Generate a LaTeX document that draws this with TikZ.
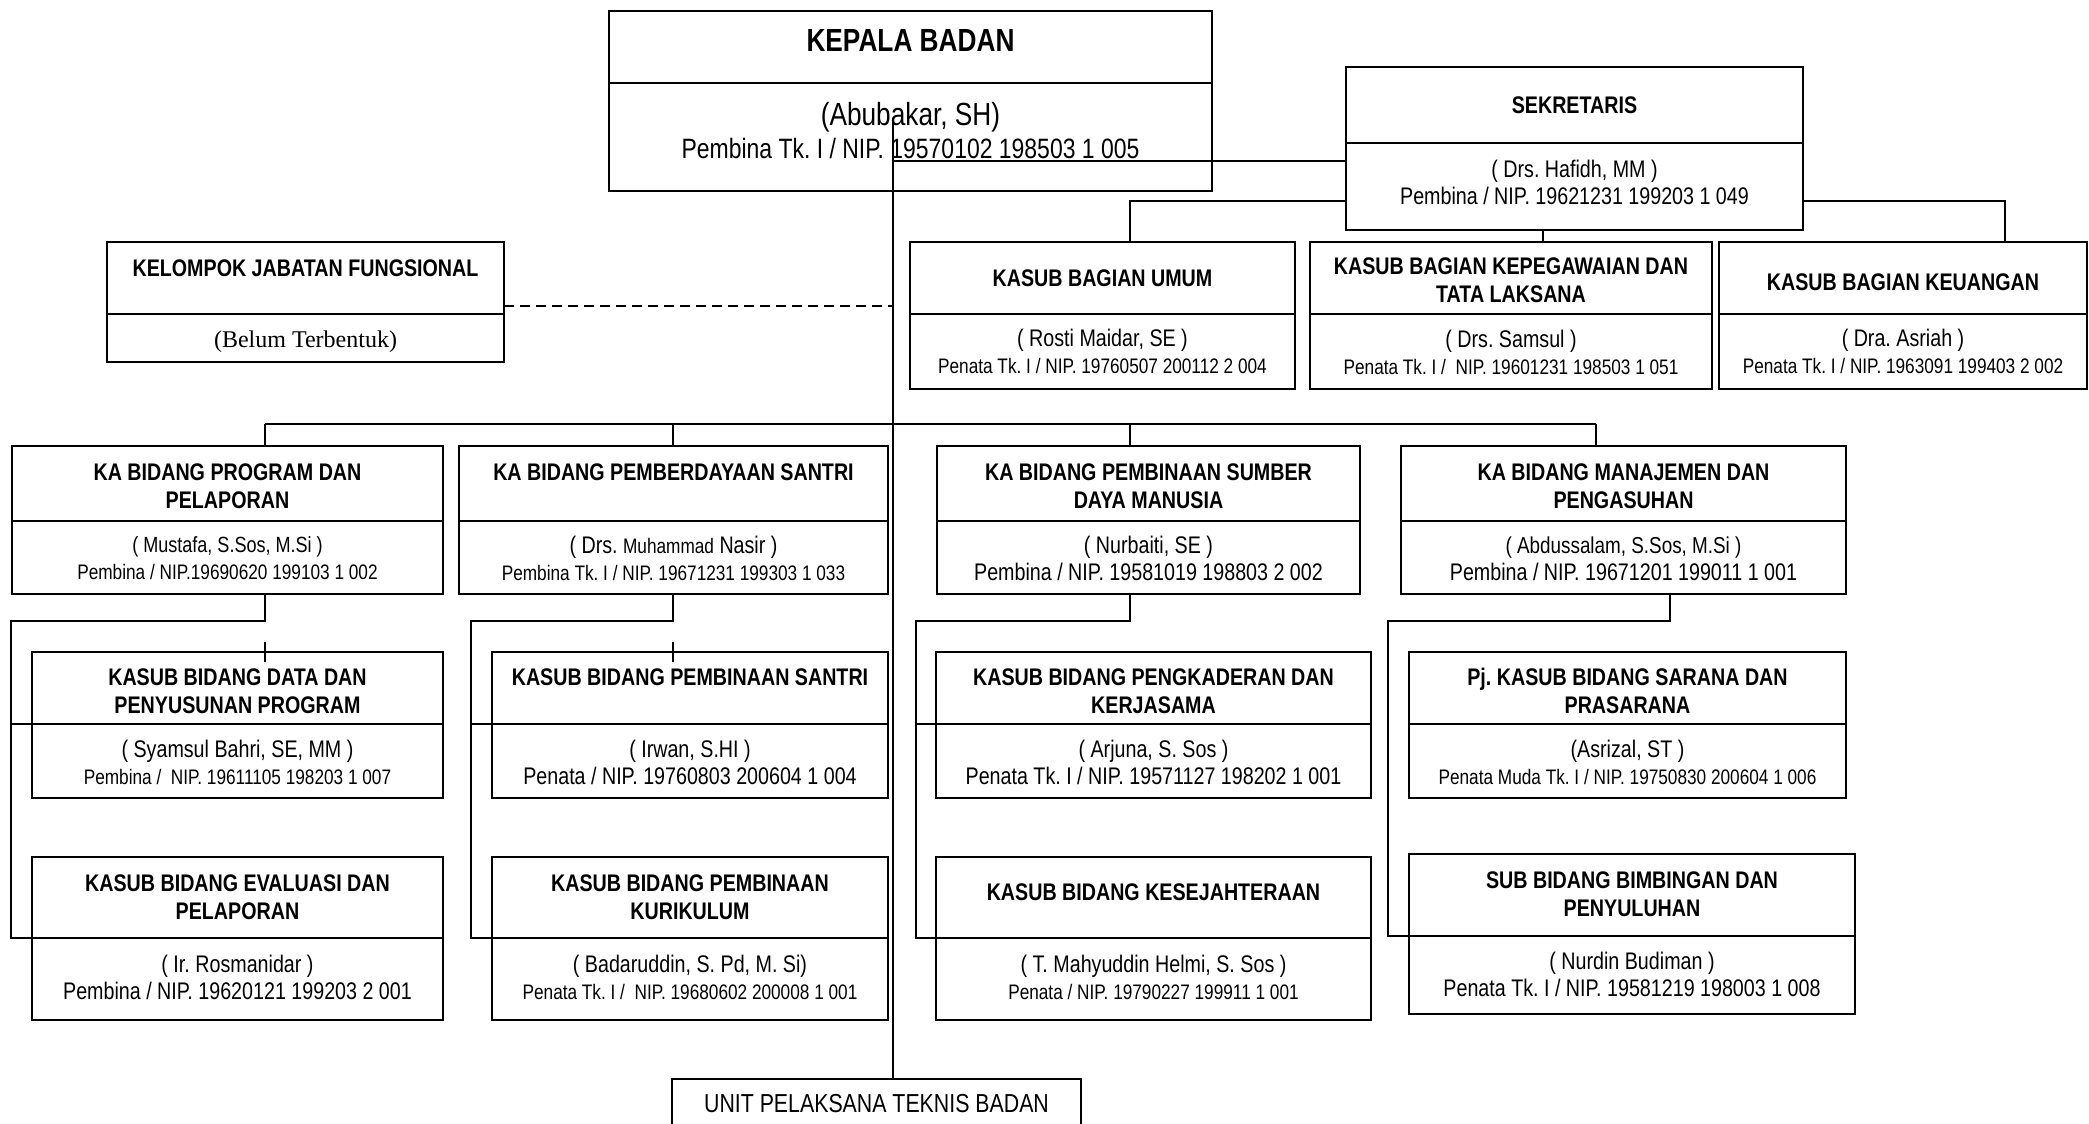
\documentclass[tikz,border=0pt]{standalone}
\usepackage{fontspec}
\setmainfont{Liberation Sans}[FakeStretch=0.82]
\newfontfamily\timesf{Liberation Serif}
\newcommand\fsz[2]{\fontsize{#1}{#2}\selectfont}
% name, x1, y1, x2, y2, style, text offset (px, downward), text
\newcommand{\orgsec}[8]{%
  \node[#6, minimum width={((#4)-(#2))*0.5pt}, minimum height={((#5)-(#3))*0.5pt}] (#1) at ({((#2)+(#4))/2},{((#3)+(#5))/2}) {};
  \node[#6, draw=none, yshift={-(#7)*0.5pt}] (#1-t) at (#1) {#8};}
\tikzset{
  box/.style={draw, line width=1.2pt, inner sep=0pt, outer sep=0pt, align=center, font=\fsz{12}{13.5}},
  ttl/.style={box, font=\bfseries\fsz{12}{14}},
  conn/.style={line width=0.8pt},
}
\begin{document}
\frenchspacing
\begin{tikzpicture}[x=0.5pt,y=-0.5pt]
\useasboundingbox (0,0) rectangle (2089,1124);
% Kepala
\orgsec{kepT}{609}{11}{1212}{83}{ttl,font=\bfseries\fsz{16}{19}}{-7}{KEPALA BADAN}
\orgsec{kepB}{609}{83}{1212}{191}{box}{-6}{\fsz{16}{18}(Abubakar, SH)\\[3pt]\fsz{14}{17}Pembina Tk. I / NIP. 19570102 198503 1 005}
% Sekretaris
\orgsec{sekT}{1346}{67}{1803}{143}{ttl}{0}{SEKRETARIS}
\orgsec{sekB}{1346}{143}{1803}{230}{box}{-4}{( Drs. Hafidh, MM )\\Pembina / NIP. 19621231 199203 1 049}
% Kelompok
\orgsec{kelT}{107}{242}{504}{314}{ttl}{4}{KELOMPOK JABATAN FUNGSIONAL\\\mbox{}}
\orgsec{kelB}{107}{314}{504}{362}{box,font=\timesf\fsz{12}{14}}{4}{(Belum Terbentuk)}
% Bagian
\orgsec{umT}{910}{242}{1295}{314}{ttl}{0}{KASUB BAGIAN UMUM}
\orgsec{umB}{910}{314}{1295}{389}{box}{0}{( Rosti Maidar, SE )\\\fsz{10.5}{12}Penata Tk. I / NIP. 19760507 200112 2 004}
\orgsec{pegT}{1310}{242}{1712}{314}{ttl}{2}{KASUB BAGIAN KEPEGAWAIAN DAN\\TATA LAKSANA}
\orgsec{pegB}{1310}{314}{1712}{389}{box}{1}{( Drs. Samsul )\\\fsz{10.5}{12}Penata Tk. I /~ NIP. 19601231 198503 1 051}
\orgsec{uangT}{1719}{242}{2087}{314}{ttl}{4}{KASUB BAGIAN KEUANGAN}
\orgsec{uangB}{1719}{314}{2087}{389}{box}{0}{( Dra. Asriah )\\\fsz{10.5}{12}Penata Tk. I / NIP. 1963091 199403 2 002}
% KA Bidang
\orgsec{kaProgT}{12}{446}{443}{521}{ttl}{3}{KA BIDANG PROGRAM DAN\\PELAPORAN}
\orgsec{kaProgB}{12}{521}{443}{594}{box}{1}{\fsz{11}{13}( Mustafa, S.Sos, M.Si )\\\fsz{10.5}{12}Pembina / NIP.19690620 199103 1 002}
\orgsec{kaSanT}{459}{446}{888}{521}{ttl}{3}{KA BIDANG PEMBERDAYAAN SANTRI\\\mbox{}}
\orgsec{kaSanB}{459}{521}{888}{594}{box}{1}{( Drs. {\fsz{10.5}{12}Muhammad} Nasir )\\\fsz{10.5}{12}Pembina Tk. I / NIP. 19671231 199303 1 033}
\orgsec{kaSdmT}{937}{446}{1360}{521}{ttl}{3}{KA BIDANG PEMBINAAN SUMBER\\DAYA MANUSIA}
\orgsec{kaSdmB}{937}{521}{1360}{594}{box}{1}{( Nurbaiti, SE )\\Pembina / NIP. 19581019 198803 2 002}
\orgsec{kaManT}{1401}{446}{1846}{521}{ttl}{3}{KA BIDANG MANAJEMEN DAN\\PENGASUHAN}
\orgsec{kaManB}{1401}{521}{1846}{594}{box}{1}{\fsz{11.5}{13}( Abdussalam, S.Sos, M.Si )\\\fsz{12}{13.5}Pembina / NIP. 19671201 199011 1 001}
% KASUB row 1
\orgsec{dataT}{32}{652}{443}{724}{ttl}{3}{KASUB BIDANG DATA DAN\\PENYUSUNAN PROGRAM}
\orgsec{dataB}{32}{724}{443}{798}{box}{1}{( Syamsul Bahri, SE, MM )\\\fsz{10.5}{12}Pembina /~ NIP. 19611105 198203 1 007}
\orgsec{pSanT}{492}{652}{888}{724}{ttl}{3}{KASUB BIDANG PEMBINAAN SANTRI\\\mbox{}}
\orgsec{pSanB}{492}{724}{888}{798}{box}{1}{( Irwan, S.HI )\\Penata / NIP. 19760803 200604 1 004}
\orgsec{kadT}{936}{652}{1371}{724}{ttl}{3}{KASUB BIDANG PENGKADERAN DAN\\KERJASAMA}
\orgsec{kadB}{936}{724}{1371}{798}{box}{1}{( Arjuna, S. Sos )\\Penata Tk. I / NIP. 19571127 198202 1 001}
\orgsec{sarT}{1409}{652}{1846}{724}{ttl}{3}{Pj. KASUB BIDANG SARANA DAN\\PRASARANA}
\orgsec{sarB}{1409}{724}{1846}{798}{box}{1}{(Asrizal, ST )\\\fsz{10.5}{12}Penata Muda Tk. I / NIP. 19750830 200604 1 006}
% KASUB row 2
\orgsec{evT}{32}{857}{443}{938}{ttl}{0}{KASUB BIDANG EVALUASI DAN\\PELAPORAN}
\orgsec{evB}{32}{938}{443}{1020}{box}{-2}{( Ir. Rosmanidar )\\Pembina / NIP. 19620121 199203 2 001}
\orgsec{kurT}{492}{857}{888}{938}{ttl}{0}{KASUB BIDANG PEMBINAAN\\KURIKULUM}
\orgsec{kurB}{492}{938}{888}{1020}{box}{-2}{( Badaruddin, S. Pd, M. Si)\\\fsz{10.5}{12}Penata Tk. I /~ NIP. 19680602 200008 1 001}
\orgsec{sejT}{936}{857}{1371}{938}{ttl}{-5}{KASUB BIDANG KESEJAHTERAAN}
\orgsec{sejB}{936}{938}{1371}{1020}{box}{-2}{( T. Mahyuddin Helmi, S. Sos )\\\fsz{10.5}{12}Penata / NIP. 19790227 199911 1 001}
\orgsec{bimT}{1409}{854}{1855}{936}{ttl}{-1}{SUB BIDANG BIMBINGAN DAN\\PENYULUHAN}
\orgsec{bimB}{1409}{936}{1855}{1014}{box}{-1}{( Nurdin Budiman )\\Penata Tk. I / NIP. 19581219 198003 1 008}
% Unit
\orgsec{unit}{672}{1079}{1081}{1135}{box,line width=1pt,font=\fsz{13}{15}}{-3}{UNIT PELAKSANA TEKNIS BADAN}
% connectors
\coordinate (mtop) at (893,122);
\draw[conn] (mtop) -- (mtop |- unit.north);
\coordinate (jk) at (893,161);
\draw[conn] (jk) -- (jk -| sekB.west);
\coordinate (js1) at (1130,201);
\draw[conn] (js1 -| sekB.west) -- (js1) -- (js1 |- umT.north);
\coordinate (js2) at (2005,201);
\draw[conn] (js2 -| sekB.east) -- (js2) -- (js2 |- uangT.north);
\coordinate (js3) at (1543,0);
\draw[conn] (js3 |- sekB.south) -- (js3 |- pegT.north);
\coordinate (jd) at (893,306);
\draw[conn,dash pattern=on 5pt off 3pt] (jd -| kelT.east) -- (jd);
% bus
\coordinate (b1) at (265,424);
\coordinate (b2) at (673,424);
\coordinate (b3) at (1130,424);
\coordinate (b4) at (1596,424);
\draw[conn] (b1) -- (b4);
\draw[conn] (b1) -- (b1 |- kaProgT.north);
\draw[conn] (b2) -- (b2 |- kaSanT.north);
\draw[conn] (b3) -- (b3 |- kaSdmT.north);
\draw[conn] (b4) -- (b4 |- kaManT.north);
% subtrees
\coordinate (e1) at (265,621); \coordinate (f1) at (11,621);
\draw[conn] (e1 |- kaProgB.south) -- (e1) -- (f1) -- (f1 |- evT.south) -- (evT.south west);
\draw[conn] (f1 |- dataT.south) -- (dataT.south west);
\coordinate (g1) at (265,642); \draw[conn] (g1) -- ++(0,20);
\coordinate (e2) at (673,621); \coordinate (f2) at (471,621);
\draw[conn] (e2 |- kaSanB.south) -- (e2) -- (f2) -- (f2 |- kurT.south) -- (kurT.south west);
\draw[conn] (f2 |- pSanT.south) -- (pSanT.south west);
\coordinate (g2) at (673,642); \draw[conn] (g2) -- ++(0,20);
\coordinate (e3) at (1130,621); \coordinate (f3) at (916,621);
\draw[conn] (e3 |- kaSdmB.south) -- (e3) -- (f3) -- (f3 |- sejT.south) -- (sejT.south west);
\draw[conn] (f3 |- kadT.south) -- (kadT.south west);
\coordinate (e4) at (1670,621); \coordinate (f4) at (1388,621);
\draw[conn] (e4 |- kaManB.south) -- (e4) -- (f4) -- (f4 |- bimT.south) -- (bimT.south west);
\end{tikzpicture}
\end{document}
